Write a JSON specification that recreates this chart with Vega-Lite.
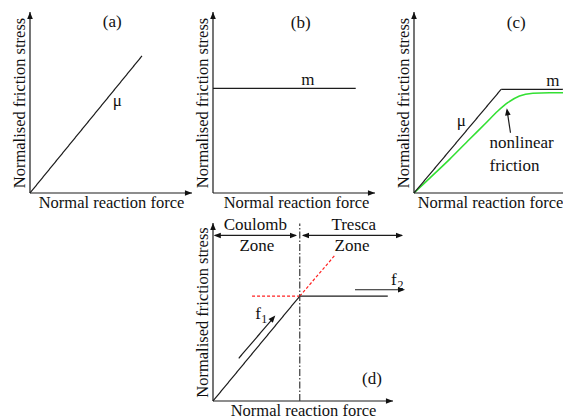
{
  "$schema": "https://vega.github.io/schema/vega-lite/v6.json",
  "autosize": {"type": "pad"},
  "padding": {"left": 11, "top": 11, "right": 0, "bottom": 0},
  "background": "white",
  "datasets": {
    "segments": [
      {"panel": "a", "kind": "solid", "x": 0, "y": 0, "x2": 100, "y2": 0},
      {"panel": "a", "kind": "solid", "x": 0, "y": 0, "x2": 0, "y2": 100},
      {"panel": "a", "kind": "solid", "x": 0, "y": 0, "x2": 69.1, "y2": 75.7},
      {"panel": "b", "kind": "solid", "x": 0, "y": 0, "x2": 100, "y2": 0},
      {"panel": "b", "kind": "solid", "x": 0, "y": 0, "x2": 0, "y2": 100},
      {"panel": "b", "kind": "solid", "x": 0, "y": 57.8, "x2": 88.1, "y2": 57.8},
      {"panel": "c", "kind": "solid", "x": 0, "y": 0, "x2": 100, "y2": 0},
      {"panel": "c", "kind": "solid", "x": 0, "y": 0, "x2": 0, "y2": 100},
      {"panel": "c", "kind": "solid", "x": 0, "y": 0, "x2": 54.5, "y2": 57.3},
      {"panel": "c", "kind": "solid", "x": 54.5, "y": 57.3, "x2": 100, "y2": 57.3},
      {"panel": "c", "kind": "solid", "x": 60.3, "y": 33.3, "x2": 58.2, "y2": 45.5},
      {"panel": "d", "kind": "solid", "x": 0, "y": 0, "x2": 100, "y2": 0},
      {"panel": "d", "kind": "solid", "x": 0, "y": 0, "x2": 0, "y2": 100},
      {"panel": "d", "kind": "solid", "x": 0, "y": 0, "x2": 48.2, "y2": 58.9},
      {"panel": "d", "kind": "solid", "x": 48.2, "y": 58.9, "x2": 97.1, "y2": 58.9},
      {"panel": "d", "kind": "solid", "x": 14.3, "y": 24.0, "x2": 33.8, "y2": 47.0},
      {"panel": "d", "kind": "solid", "x": 78.9, "y": 62.5, "x2": 105.5, "y2": 62.5},
      {"panel": "d", "kind": "solid", "x": 1.0, "y": 93, "x2": 46.0, "y2": 93},
      {"panel": "d", "kind": "solid", "x": 50.0, "y": 93, "x2": 105.0, "y2": 93},
      {"panel": "d", "kind": "reddash", "x": 21.7, "y": 58.9, "x2": 48.2, "y2": 58.9},
      {"panel": "d", "kind": "reddash", "x": 48.2, "y": 58.9, "x2": 67.4, "y2": 81.5},
      {"panel": "d", "kind": "dashdot", "x": 48.2, "y": 0, "x2": 48.2, "y2": 99.7}
    ],
    "curve": [
      {"panel": "c", "x": 0, "y": 0},
      {"panel": "c", "x": 9.7, "y": 8.1},
      {"panel": "c", "x": 22.2, "y": 18.6},
      {"panel": "c", "x": 34.7, "y": 29.7},
      {"panel": "c", "x": 45.1, "y": 38.8},
      {"panel": "c", "x": 52.4, "y": 45.3},
      {"panel": "c", "x": 58.6, "y": 49.9},
      {"panel": "c", "x": 65.9, "y": 53.6},
      {"panel": "c", "x": 74.3, "y": 55.1},
      {"panel": "c", "x": 84.7, "y": 55.4},
      {"panel": "c", "x": 100, "y": 55.4}
    ],
    "heads": [
      {"panel": "a", "x": 100, "y": 0, "angle": 90},
      {"panel": "a", "x": 0, "y": 100, "angle": 0},
      {"panel": "b", "x": 100, "y": 0, "angle": 90},
      {"panel": "b", "x": 0, "y": 100, "angle": 0},
      {"panel": "c", "x": 100, "y": 0, "angle": 90},
      {"panel": "c", "x": 0, "y": 100, "angle": 0},
      {"panel": "c", "x": 58.0, "y": 46.8, "angle": 351.4},
      {"panel": "d", "x": 100, "y": 0, "angle": 90},
      {"panel": "d", "x": 0, "y": 100, "angle": 0},
      {"panel": "d", "x": 34.6, "y": 48.0, "angle": 40.6},
      {"panel": "d", "x": 106.7, "y": 62.5, "angle": 90},
      {"panel": "d", "x": 0.4, "y": 93, "angle": 270},
      {"panel": "d", "x": 46.7, "y": 93, "angle": 90},
      {"panel": "d", "x": 49.4, "y": 93, "angle": 270},
      {"panel": "d", "x": 105.6, "y": 93, "angle": 90}
    ],
    "labels": [
      {"panel": "a", "kind": "center", "text": "μ", "x": 53.9, "y": 50.8},
      {"panel": "a", "kind": "center", "text": "(a)", "x": 50.8, "y": 94.6},
      {"panel": "b", "kind": "center", "text": "m", "x": 58.6, "y": 62.4},
      {"panel": "b", "kind": "center", "text": "(b)", "x": 54.1, "y": 94.1},
      {"panel": "c", "kind": "center", "text": "m", "x": 86.8, "y": 61.9},
      {"panel": "c", "kind": "center", "text": "μ", "x": 29.5, "y": 39.8},
      {"panel": "c", "kind": "center", "text": "(c)", "x": 63.9, "y": 94.1},
      {"panel": "c", "kind": "left", "text": "nonlinear", "x": 47.2, "y": 27.8},
      {"panel": "c", "kind": "left", "text": "friction", "x": 47.2, "y": 14.9},
      {"panel": "d", "kind": "center", "text": "Coulomb", "x": 23.5, "y": 98.6},
      {"panel": "d", "kind": "center", "text": "Zone", "x": 24.4, "y": 86.8},
      {"panel": "d", "kind": "center", "text": "Tresca", "x": 78.2, "y": 98.6},
      {"panel": "d", "kind": "center", "text": "Zone", "x": 77.2, "y": 86.8},
      {"panel": "d", "kind": "center", "text": "(d)", "x": 88.3, "y": 12.6},
      {"panel": "d", "kind": "center", "text": "f", "x": 25.0, "y": 49.0},
      {"panel": "d", "kind": "center", "text": "f", "x": 100.4, "y": 67.7},
      {"panel": "d", "kind": "sub", "text": "1", "x": 28.5, "y": 45.8},
      {"panel": "d", "kind": "sub", "text": "2", "x": 104.1, "y": 64.9}
    ]
  },
  "config": {
    "view": {"stroke": null},
    "axis": {
      "domain": false,
      "ticks": false,
      "labels": false,
      "grid": false,
      "titleFont": "Liberation Serif",
      "titleFontSize": 16.5,
      "titleFontWeight": "normal",
      "titleColor": "#111111"
    },
    "axisX": {"titlePadding": 1},
    "axisY": {"titlePadding": 3},
    "text": {"font": "Liberation Serif", "fontSize": 17, "color": "#111111"},
    "rule": {"strokeWidth": 1.2},
    "point": {"shape": "M0,0L-0.4,1L0.4,1Z", "filled": true, "size": 200, "color": "#111111", "opacity": 1, "strokeWidth": 0}
  },
  "columns": 3,
  "align": "none",
  "bounds": "flush",
  "spacing": {"row": 30, "column": 21},
  "concat": [
    {
      "width": 162,
      "height": 181,
      "encoding": {
        "x": {"field": "x", "type": "quantitative", "scale": {"domain": [0, 100], "nice": false, "zero": false}, "axis": {"title": "Normal reaction force"}},
        "y": {"field": "y", "type": "quantitative", "scale": {"domain": [0, 100], "nice": false, "zero": false}, "axis": {"title": "Normalised friction stress"}}
      },
      "layer": [
        {
          "data": {"name": "segments"},
          "transform": [{"filter": "datum.panel === 'a'"}],
          "mark": "rule",
          "encoding": {
            "x2": {"field": "x2"},
            "y2": {"field": "y2"},
            "color": {"field": "kind", "type": "nominal", "scale": {"domain": ["solid", "reddash", "dashdot"], "range": ["#1c1c1c", "#ff2020", "#3a3a3a"]}, "legend": null},
            "strokeDash": {"field": "kind", "type": "nominal", "scale": {"domain": ["solid", "reddash", "dashdot"], "range": [[1, 0], [3, 2], [7, 2, 1.5, 2]]}, "legend": null}
          }
        },
        {
          "data": {"name": "heads"},
          "transform": [{"filter": "datum.panel === 'a'"}],
          "mark": "point",
          "encoding": {"angle": {"field": "angle", "type": "quantitative", "scale": null}}
        },
        {
          "data": {"name": "labels"},
          "transform": [{"filter": "datum.panel === 'a' && datum.kind === 'center'"}],
          "mark": "text",
          "encoding": {"text": {"field": "text"}}
        }
      ]
    },
    {
      "width": 174,
      "height": 181,
      "encoding": {
        "x": {"field": "x", "type": "quantitative", "scale": {"domain": [0, 107.4], "nice": false, "zero": false}, "axis": {"title": "Normal reaction force", "titleX": 83}},
        "y": {"field": "y", "type": "quantitative", "scale": {"domain": [0, 100], "nice": false, "zero": false}, "axis": {"title": "Normalised friction stress"}}
      },
      "layer": [
        {
          "data": {"name": "segments"},
          "transform": [{"filter": "datum.panel === 'b'"}],
          "mark": "rule",
          "encoding": {
            "x2": {"field": "x2"},
            "y2": {"field": "y2"},
            "color": {"field": "kind", "type": "nominal", "scale": {"domain": ["solid", "reddash", "dashdot"], "range": ["#1c1c1c", "#ff2020", "#3a3a3a"]}, "legend": null},
            "strokeDash": {"field": "kind", "type": "nominal", "scale": {"domain": ["solid", "reddash", "dashdot"], "range": [[1, 0], [3, 2], [7, 2, 1.5, 2]]}, "legend": null}
          }
        },
        {
          "data": {"name": "heads"},
          "transform": [{"filter": "datum.panel === 'b'"}],
          "mark": "point",
          "encoding": {"angle": {"field": "angle", "type": "quantitative", "scale": null}}
        },
        {
          "data": {"name": "labels"},
          "transform": [{"filter": "datum.panel === 'b' && datum.kind === 'center'"}],
          "mark": "text",
          "encoding": {"text": {"field": "text"}}
        }
      ]
    },
    {
      "width": 160,
      "height": 181,
      "encoding": {
        "x": {"field": "x", "type": "quantitative", "scale": {"domain": [0, 100], "nice": false, "zero": false}, "axis": {"title": "Normal reaction force", "titleX": 76}},
        "y": {"field": "y", "type": "quantitative", "scale": {"domain": [0, 100], "nice": false, "zero": false}, "axis": {"title": "Normalised friction stress"}}
      },
      "layer": [
        {
          "data": {"name": "curve"},
          "mark": {"type": "line", "color": "#33e033", "strokeWidth": 1.6, "interpolate": "monotone"},
          "encoding": {}
        },
        {
          "data": {"name": "segments"},
          "transform": [{"filter": "datum.panel === 'c'"}],
          "mark": "rule",
          "encoding": {
            "x2": {"field": "x2"},
            "y2": {"field": "y2"},
            "color": {"field": "kind", "type": "nominal", "scale": {"domain": ["solid", "reddash", "dashdot"], "range": ["#1c1c1c", "#ff2020", "#3a3a3a"]}, "legend": null},
            "strokeDash": {"field": "kind", "type": "nominal", "scale": {"domain": ["solid", "reddash", "dashdot"], "range": [[1, 0], [3, 2], [7, 2, 1.5, 2]]}, "legend": null}
          }
        },
        {
          "data": {"name": "heads"},
          "transform": [{"filter": "datum.panel === 'c'"}],
          "mark": "point",
          "encoding": {"angle": {"field": "angle", "type": "quantitative", "scale": null}}
        },
        {
          "data": {"name": "labels"},
          "transform": [{"filter": "datum.panel === 'c' && datum.kind === 'center'"}],
          "mark": "text",
          "encoding": {"text": {"field": "text"}}
        },
        {
          "data": {"name": "labels"},
          "transform": [{"filter": "datum.panel === 'c' && datum.kind === 'left'"}],
          "mark": {"type": "text", "align": "left"},
          "encoding": {"text": {"field": "text"}}
        }
      ]
    },
    {
      "width": 159,
      "height": 178,
      "data": {"values": []},
      "mark": "point"
    },
    {
      "width": 180,
      "height": 178,
      "encoding": {
        "x": {"field": "x", "type": "quantitative", "scale": {"domain": [0, 100], "nice": false, "zero": false}, "axis": {"title": "Normal reaction force"}},
        "y": {"field": "y", "type": "quantitative", "scale": {"domain": [0, 100], "nice": false, "zero": false}, "axis": {"title": "Normalised friction stress"}}
      },
      "layer": [
        {
          "data": {"name": "segments"},
          "transform": [{"filter": "datum.panel === 'd'"}],
          "mark": "rule",
          "encoding": {
            "x2": {"field": "x2"},
            "y2": {"field": "y2"},
            "color": {"field": "kind", "type": "nominal", "scale": {"domain": ["solid", "reddash", "dashdot"], "range": ["#1c1c1c", "#ff2020", "#3a3a3a"]}, "legend": null},
            "strokeDash": {"field": "kind", "type": "nominal", "scale": {"domain": ["solid", "reddash", "dashdot"], "range": [[1, 0], [3, 2], [7, 2, 1.5, 2]]}, "legend": null}
          }
        },
        {
          "data": {"name": "heads"},
          "transform": [{"filter": "datum.panel === 'd'"}],
          "mark": "point",
          "encoding": {"angle": {"field": "angle", "type": "quantitative", "scale": null}}
        },
        {
          "data": {"name": "labels"},
          "transform": [{"filter": "datum.panel === 'd' && datum.kind === 'center'"}],
          "mark": "text",
          "encoding": {"text": {"field": "text"}}
        },
        {
          "data": {"name": "labels"},
          "transform": [{"filter": "datum.panel === 'd' && datum.kind === 'sub'"}],
          "mark": {"type": "text", "fontSize": 12},
          "encoding": {"text": {"field": "text"}}
        }
      ]
    }
  ]
}
